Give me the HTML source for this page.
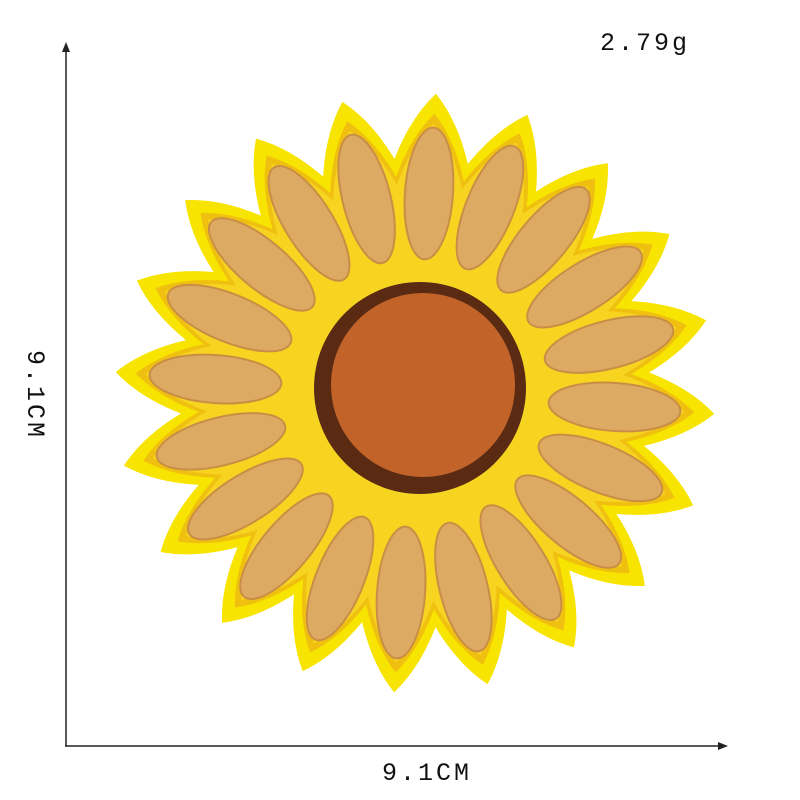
<!DOCTYPE html>
<html><head><meta charset="utf-8"><style>
html,body{margin:0;padding:0;background:#fff;width:800px;height:800px;overflow:hidden}
svg{display:block}
text{font-family:"Liberation Mono",monospace;fill:#111;letter-spacing:3px}
</style></head><body>
<svg id="c" width="800" height="800" viewBox="0 0 800 800">
<g>
<line x1="66" y1="50" x2="66" y2="746" stroke="#222" stroke-width="1.5"/>
<polygon points="66,42 62,52 70,52" fill="#222"/>
</g>
<g>
<line x1="65" y1="746" x2="720" y2="746" stroke="#222" stroke-width="1.5"/>
<polygon points="728,746 718,742 718,750" fill="#222"/>
</g>
<text x="600" y="50" font-size="25">2.79g</text>
<text x="382" y="780" font-size="25">9.1CM</text>
<text transform="translate(28,350) rotate(90)" font-size="25">9.1CM</text>
<g id="flower"></g>
</svg>
<script>
const petalCount = [20];
const outerRadius = [300];
const valleyRadius = [235];
const NS='http://www.w3.org/2000/svg';
const g=document.getElementById('flower');
const cx=415, cy=393, n=petalCount[0], R=outerRadius[0], V=valleyRadius[0];
const off=-86*Math.PI/180;
function pt(r,a){return [cx+r*Math.cos(a),cy+r*Math.sin(a)];}
function star(r,v,col,name){
  let d='';
  for(let i=0;i<n;i++){
    const a=off+i*2*Math.PI/n, a0=a-Math.PI/n;
    const p0=pt(v,a0), t=pt(r,a);
    const c0=pt((v+r)/2+8,a-Math.PI/n*0.55);
    d+=(i==0?'M':'L')+p0.join(',')+' Q'+c0.join(',')+' '+t.join(',');
    const a1=a+Math.PI/n, p1=pt(v,a1), c1=pt((v+r)/2+8,a+Math.PI/n*0.55);
    d+=' Q'+c1.join(',')+' '+p1.join(',');
  }
  const p=document.createElementNS(NS,'path');
  p.setAttribute('d',d+'Z');p.setAttribute('fill',col);
  p.setAttribute('stroke-linejoin','round');
  
  
  g.appendChild(p);
}
star(R,V,'#f7e400','outer-petals');
star(R-20,V-18,'#f0c010','petal-stitching');
star(R-30,V-26,'#f6d420','inner-petals');
for(let i=0;i<n;i++){
  const a=off+i*2*Math.PI/n;
  const m=pt(200,a);
  const e=document.createElementNS(NS,'ellipse');
  e.setAttribute('cx',m[0]);e.setAttribute('cy',m[1]);
  e.setAttribute('rx',66);e.setAttribute('ry',24);
  e.setAttribute('fill','#dcaa62');
  e.setAttribute('stroke','#c98e45');e.setAttribute('stroke-width','2');
  e.setAttribute('transform','rotate('+(a*180/Math.PI)+' '+m[0]+' '+m[1]+')');
  
  
  g.appendChild(e);
}
const ring=document.createElementNS(NS,'circle');
ring.setAttribute('cx',cx+5);ring.setAttribute('cy',cy-5);ring.setAttribute('r',106);ring.setAttribute('fill','#5a2b12');


g.appendChild(ring);
const disk=document.createElementNS(NS,'circle');
disk.setAttribute('cx',cx+8);disk.setAttribute('cy',cy-8);disk.setAttribute('r',92);disk.setAttribute('fill','#c2642a');


g.appendChild(disk);
</script>
</body></html>
